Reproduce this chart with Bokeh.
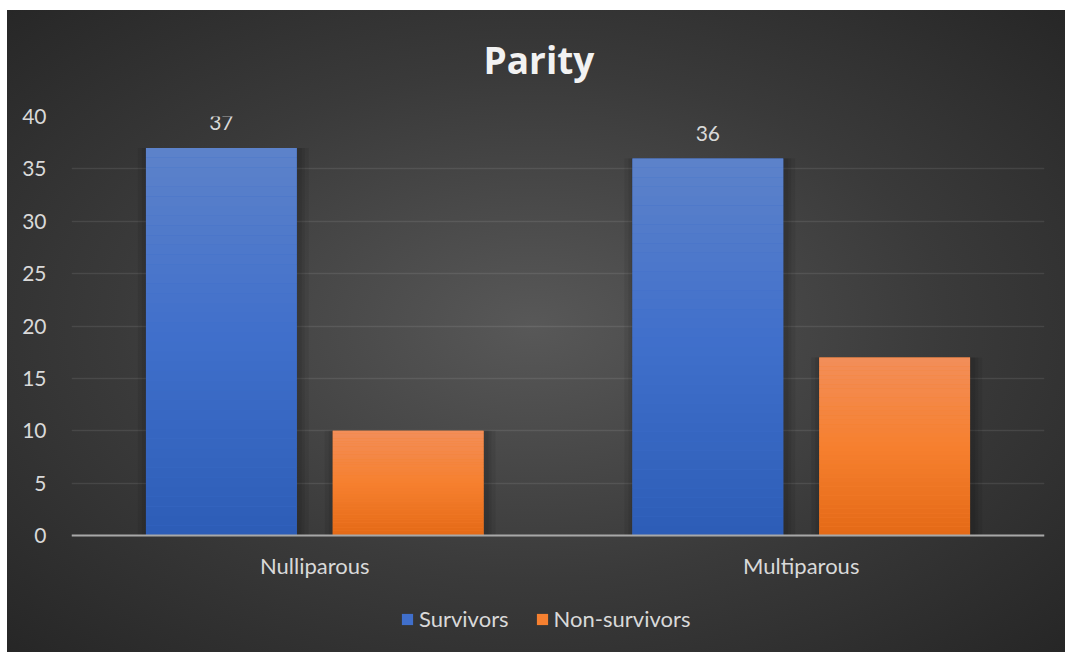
from bokeh.plotting import figure
from bokeh.models import (ColumnDataSource, FactorRange, FixedTicker, Legend,
                          LegendItem, LabelSet)
from bokeh.core.properties import value
from bokeh.transform import dodge
from bokeh.embed import file_html
from bokeh.resources import INLINE

# ---- data -------------------------------------------------------------
categories = ["Nulliparous", "Multiparous"]
survivors = [37, 36]
non_survivors = [10, 17]
y_ticks = [0, 5, 10, 15, 20, 25, 30, 35, 40]
series_names = ["Survivors", "Non-survivors"]

# ---- style ------------------------------------------------------------
FONT = "Lato"
TEXT = "#d9d9d9"
BAR_W = 0.31
OFFSETS = [-0.192, 0.192]
# (top, middle, bottom) colour stops for the vertical bar shading
STOPS = [
    ("#5d82ca", "#3f6fcb", "#2d5db6"),
    ("#f28e5a", "#f6802f", "#e46916"),
]
N_SLICES = 40

# plot area: 419 px for 0..40, plus 117 px below the zero line that holds
# the category labels and the legend
Y_TOP = 40
Y_BOTTOM = -Y_TOP * 117 / 419


def hex_rgb(h):
    h = h.lstrip("#")
    return tuple(int(h[i:i + 2], 16) for i in (0, 2, 4))


def mix(a, b, t):
    ca, cb = hex_rgb(a), hex_rgb(b)
    return "#%02x%02x%02x" % tuple(round(x + (y - x) * t) for x, y in zip(ca, cb))


def shade(stops, t):
    """t = 0 at the bar foot, 1 at its top."""
    top, mid, bot = stops
    if t < 0.5:
        return mix(bot, mid, t / 0.5)
    return mix(mid, top, (t - 0.5) / 0.5)


BACKGROUND = (
    "linear-gradient(#ffffff, #ffffff) left top / 100% 10px no-repeat, "
    "linear-gradient(#ffffff, #ffffff) left top / 7px 100% no-repeat, "
    "radial-gradient(ellipse at 50% 50%, #585858 0%, #3a3a3a 55%, #262626 100%) "
    "left top / 1065px 652px no-repeat"
)

p = figure(
    x_range=FactorRange(*categories, range_padding=0),
    y_range=(Y_BOTTOM, Y_TOP),
    frame_width=973, frame_height=536,
    output_backend="svg", toolbar_location=None,
    min_border_left=71, min_border_right=21,
    min_border_top=116, min_border_bottom=0,
    styles={"background": BACKGROUND},
)
p.border_fill_alpha = 0
p.background_fill_alpha = 0
p.outline_line_color = None

# title
p.title.text = "Parity"
p.title.align = "left"
p.title.offset = 412
p.title.text_font = "Open Sans"
p.title.text_font_size = "37px"
p.title.text_font_style = "bold"
p.title.text_color = "#f2f2f2"
p.title.standoff = 63

# grid
p.xgrid.grid_line_color = None
p.ygrid.grid_line_color = "white"
p.ygrid.grid_line_alpha = 0.09
p.ygrid.grid_line_width = 1.5
p.yaxis.ticker = FixedTicker(ticks=y_ticks)

# axes
p.yaxis.axis_line_color = None
p.yaxis.major_tick_line_color = None
p.yaxis.minor_tick_line_color = None
p.yaxis.major_label_standoff = 19
p.yaxis.major_label_text_font = FONT
p.yaxis.major_label_text_font_size = "21px"
p.yaxis.major_label_text_color = TEXT

# category axis sits on the zero line
p.xaxis.fixed_location = 0
p.xaxis.axis_line_color = "#a8a8a8"
p.xaxis.axis_line_width = 2
p.xaxis.major_tick_line_color = None
p.xaxis.minor_tick_line_color = None
p.xaxis.major_label_standoff = 10
p.xaxis.major_label_text_font = FONT
p.xaxis.major_label_text_font_size = "22px"
p.xaxis.major_label_text_color = TEXT

# soft shadows behind the bars
px_x = 1 / 486.5
for values, off in zip([survivors, non_survivors], OFFSETS):
    for k in (3, 6, 10):
        p.vbar(x=dodge("cat", off + 2 * px_x, range=p.x_range),
               top="top", bottom=0, width=BAR_W + 2 * k * px_x,
               source=ColumnDataSource(dict(cat=categories, top=values)),
               fill_color="black", fill_alpha=0.07, line_color=None)

# bars: a solid base, then stacked slices carrying the vertical shading
items = []
for name, values, off, stops in zip(series_names, [survivors, non_survivors],
                                    OFFSETS, STOPS):
    p.vbar(x=dodge("cat", off, range=p.x_range), top="top", bottom=0,
           width=BAR_W, source=ColumnDataSource(dict(cat=categories, top=values)),
           fill_color=stops[1], line_color=None)
    cats, bots, tops, cols = [], [], [], []
    for c, v in zip(categories, values):
        for i in range(N_SLICES):
            cats.append(c)
            bots.append(v * i / N_SLICES)
            tops.append(v * (i + 1) / N_SLICES)
            cols.append(shade(stops, (i + 0.5) / N_SLICES))
    src = ColumnDataSource(dict(cat=cats, bottom=bots, top=tops, color=cols))
    r = p.vbar(x=dodge("cat", off, range=p.x_range), top="top", bottom="bottom",
               width=BAR_W, source=src, fill_color="color", line_color=None)
    items.append(LegendItem(label=name, renderers=[r], index=N_SLICES // 2))

# value labels on the survivors' bars
lbl_src = ColumnDataSource(dict(cat=categories, top=survivors,
                                txt=[str(v) for v in survivors]))
p.add_layout(LabelSet(x=dodge("cat", OFFSETS[0], range=p.x_range), y="top",
                      text="txt", source=lbl_src, y_offset=25,
                      text_align="center", text_baseline="middle",
                      text_font=value(FONT), text_font_size=value("21px"),
                      text_color=TEXT))

# legend, under the category labels
legend = Legend(items=items, orientation="horizontal", location=(329, 20),
                glyph_width=14, glyph_height=14, label_standoff=5, spacing=26,
                label_text_font=FONT, label_text_font_size="22px",
                label_text_color=TEXT, background_fill_alpha=0,
                border_line_color=None, padding=0, margin=0)
p.add_layout(legend, "center")

open("out.html", "w").write(file_html(p, INLINE))
